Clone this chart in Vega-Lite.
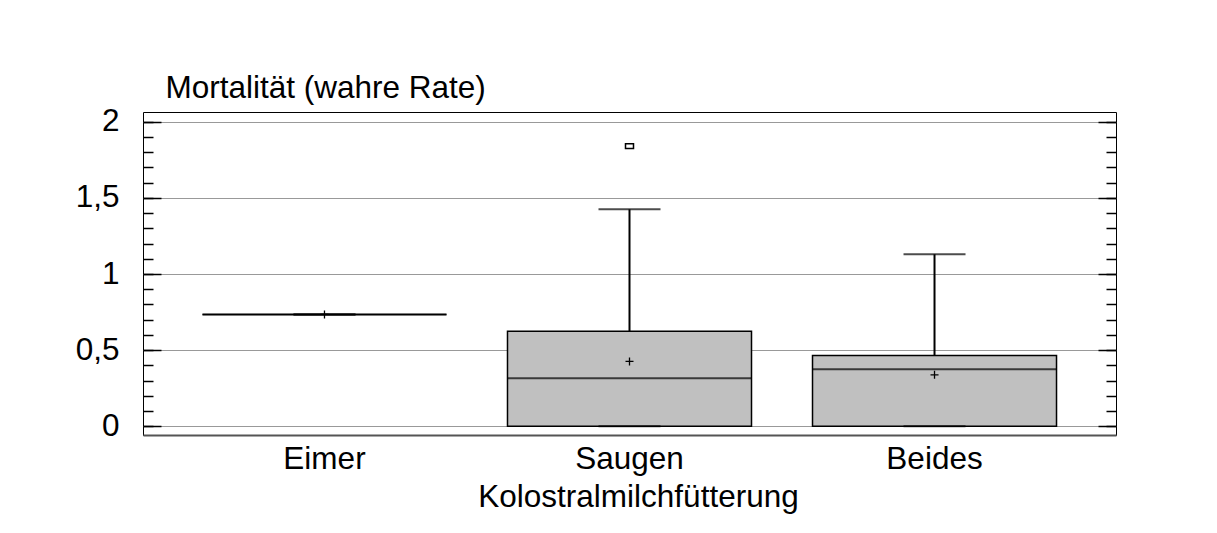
{
  "$schema": "https://vega.github.io/schema/vega-lite/v6.json",
  "width": 973,
  "height": 323,
  "autosize": "none",
  "padding": {"left": 143, "top": 112, "right": 101, "bottom": 98},
  "background": "white",
  "datasets": {
    "stats": [
      {"Fuetterung": "Eimer", "min": 0.735, "q1": 0.735, "median": 0.735, "q3": 0.735, "max": 0.735, "mean": 0.735},
      {"Fuetterung": "Saugen", "min": 0, "q1": 0, "median": 0.316, "q3": 0.625, "max": 1.425, "mean": 0.426},
      {"Fuetterung": "Beides", "min": 0, "q1": 0, "median": 0.375, "q3": 0.465, "max": 1.13, "mean": 0.338}
    ],
    "outliers": [
      {"Fuetterung": "Saugen", "wert": 1.84}
    ]
  },
  "data": {"name": "stats"},
  "resolve": {"axis": {"y": "independent"}},
  "layer": [
    {
      "mark": {"type": "rule", "color": "black", "strokeWidth": 2},
      "encoding": {
        "x": {
          "field": "Fuetterung", "type": "nominal", "sort": ["Eimer", "Saugen", "Beides"],
          "scale": {"paddingInner": 0.2, "paddingOuter": 0.195},
          "axis": {
            "orient": "bottom", "title": "Kolostralmilchfütterung", "ticks": false,
            "labelPadding": 8, "labelAngle": 0, "domainColor": "#555", "domainWidth": 2,
            "titleX": 495, "titleY": 71, "titleAlign": "center", "titleBaseline": "alphabetic",
            "grid": false
          }
        },
        "y": {
          "field": "min", "type": "quantitative",
          "scale": {"domain": [-0.057, 2.064], "nice": false, "zero": false},
          "axis": {
            "orient": "left", "values": [0, 0.5, 1, 1.5, 2], "ticks": false, "domain": false,
            "grid": true, "gridColor": "#999", "gridWidth": 1,
            "labelPadding": 24, "labelFlush": false, "labelOverlap": false, "labelBound": false,
            "labelExpr": "replace(toString(datum.value), '.', ',')",
            "title": "Mortalität (wahre Rate)", "titleAngle": 0, "titleAlign": "left",
            "titleBaseline": "alphabetic", "titleX": 22, "titleY": -14.5
          }
        },
        "y2": {"field": "max"}
      }
    },
    {
      "mark": {"type": "bar", "fill": "#C0C0C0", "stroke": "black", "strokeWidth": 1.5},
      "encoding": {
        "x": {"field": "Fuetterung", "type": "nominal", "sort": ["Eimer", "Saugen", "Beides"]},
        "y": {
          "field": "q1", "type": "quantitative",
          "axis": {"orient": "left", "offset": -18, "values": [0, 0.5, 1, 1.5, 2], "tickSize": 18, "labels": false, "domain": false, "grid": false, "title": null}
        },
        "y2": {"field": "q3"}
      }
    },
    {
      "mark": {"type": "tick", "color": "black", "size": 62, "thickness": 2},
      "encoding": {
        "x": {"field": "Fuetterung", "type": "nominal", "sort": ["Eimer", "Saugen", "Beides"]},
        "y": {
          "field": "max", "type": "quantitative",
          "axis": {"orient": "left", "offset": -10, "values": [0, 0.1, 0.2, 0.3, 0.4, 0.5, 0.6, 0.7, 0.8, 0.9, 1, 1.1, 1.2, 1.3, 1.4, 1.5, 1.6, 1.7, 1.8, 1.9, 2], "tickSize": 10, "labels": false, "domain": false, "grid": false, "title": null}
        }
      }
    },
    {
      "mark": {"type": "tick", "color": "black", "size": 62, "thickness": 2},
      "encoding": {
        "x": {"field": "Fuetterung", "type": "nominal", "sort": ["Eimer", "Saugen", "Beides"]},
        "y": {
          "field": "min", "type": "quantitative",
          "axis": {"orient": "right", "offset": -18, "values": [0, 0.5, 1, 1.5, 2], "tickSize": 18, "labels": false, "domain": false, "grid": false, "title": null}
        }
      }
    },
    {
      "mark": {"type": "tick", "color": "black", "size": 244, "thickness": 2},
      "encoding": {
        "x": {"field": "Fuetterung", "type": "nominal", "sort": ["Eimer", "Saugen", "Beides"]},
        "y": {
          "field": "median", "type": "quantitative",
          "axis": {"orient": "right", "offset": -10, "values": [0, 0.1, 0.2, 0.3, 0.4, 0.5, 0.6, 0.7, 0.8, 0.9, 1, 1.1, 1.2, 1.3, 1.4, 1.5, 1.6, 1.7, 1.8, 1.9, 2], "tickSize": 10, "labels": false, "domain": false, "grid": false, "title": null}
        }
      }
    },
    {
      "mark": {"type": "point", "shape": "M-1,0H1M0,-1V1", "size": 64, "filled": false, "stroke": "black", "strokeWidth": 1.3, "opacity": 1},
      "encoding": {
        "x": {"field": "Fuetterung", "type": "nominal", "sort": ["Eimer", "Saugen", "Beides"]},
        "y": {"field": "mean", "type": "quantitative", "axis": null}
      }
    },
    {
      "data": {"name": "outliers"},
      "mark": {"type": "point", "shape": "M-1,-0.6H1V0.6H-1Z", "size": 64, "filled": false, "stroke": "black", "strokeWidth": 1.5, "opacity": 1},
      "encoding": {
        "x": {"field": "Fuetterung", "type": "nominal", "sort": ["Eimer", "Saugen", "Beides"]},
        "y": {"field": "wert", "type": "quantitative", "axis": null}
      }
    }
  ],
  "config": {
    "font": "Liberation Sans",
    "view": {"stroke": "black", "strokeWidth": 1},
    "axis": {
      "labelColor": "black", "titleColor": "black", "labelFontSize": 31.5, "titleFontSize": 31.5,
      "titleFontWeight": "normal", "tickColor": "black", "tickWidth": 1.5, "labelFont": "Liberation Sans", "titleFont": "Liberation Sans"
    }
  }
}
